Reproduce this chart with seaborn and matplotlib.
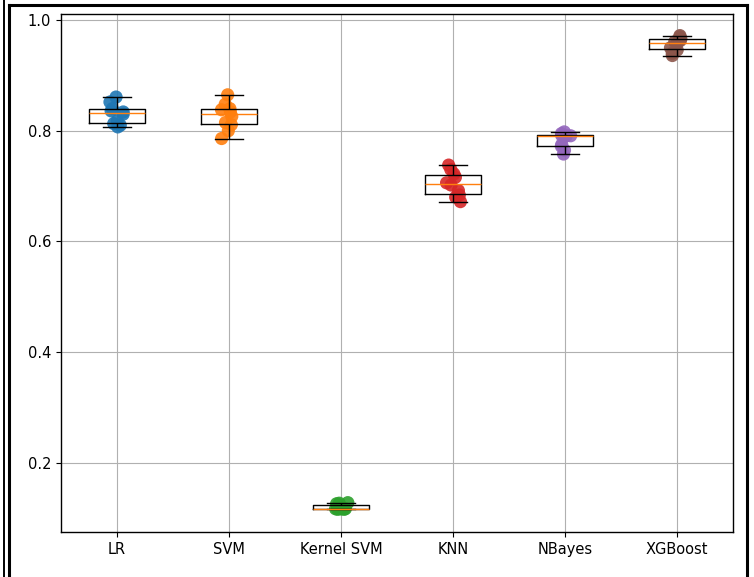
import numpy as np
import pandas as pd
import matplotlib
matplotlib.use("Agg")
import matplotlib.pyplot as plt
from matplotlib.lines import Line2D
import seaborn as sns

models = ["LR", "SVM", "Kernel SVM", "KNN", "NBayes", "XGBoost"]
lr = [0.807, 0.810, 0.813, 0.818, 0.830, 0.834, 0.836, 0.840, 0.852, 0.861]
svm = [0.786, 0.800, 0.811, 0.815, 0.826, 0.834, 0.838, 0.840, 0.848, 0.865]
ksvm = [0.116, 0.116, 0.117, 0.117, 0.117, 0.117, 0.119, 0.126, 0.127, 0.128]
knn = [0.672, 0.680, 0.684, 0.692, 0.702, 0.706, 0.716, 0.722, 0.730, 0.738]
nb = [0.758, 0.765, 0.772, 0.775, 0.789, 0.791, 0.791, 0.792, 0.795, 0.798]
xgb = [0.936, 0.940, 0.946, 0.950, 0.957, 0.961, 0.963, 0.966, 0.970, 0.972]
yticks = [0.2, 0.4, 0.6, 0.8, 1.0]

series = [lr, svm, ksvm, knn, nb, xgb]
df = pd.DataFrame({
    "model": np.repeat(models, [len(s) for s in series]),
    "score": np.concatenate(series),
})

fig = plt.figure(figsize=(7.54, 5.77), dpi=100)
ax = fig.add_axes([0.0809, 0.078, 0.8912, 0.8977])

np.random.seed(3)
sns.stripplot(data=df, x="model", y="score", hue="model", order=models,
              palette="tab10", jitter=0.07, size=9.5, linewidth=0, alpha=0.9,
              legend=False, ax=ax, zorder=2)
sns.boxplot(data=df, x="model", y="score", order=models, fill=False,
            color="black", width=0.5, linewidth=1.0, whis=1.5,
            showfliers=False, medianprops=dict(color="#ff7f0e", linewidth=1.0),
            ax=ax, zorder=3)

ax.set_ylim(0.075, 1.011)
ax.set_xlim(-0.5, 5.5)
ax.set_yticks(yticks)
ax.set_yticklabels([f"{t:.1f}" for t in yticks])
ax.tick_params(labelsize=10.5)
ax.set_xlabel("")
ax.set_ylabel("")
ax.grid(True, color="#b0b0b0", linewidth=0.8)
ax.set_axisbelow(True)
for s in ax.spines.values():
    s.set_color("black")
    s.set_linewidth(1.0)

W, H = 754, 577
def fx(p):
    return p / W
def fy(p):
    return 1 - p / H
fig.add_artist(Line2D([fx(4), fx(4)], [fy(0), fy(577)], color="black", lw=1.4,
                      transform=fig.transFigure))
fig.add_artist(Line2D([fx(9), fx(9)], [fy(5), fy(577)], color="black", lw=2.2,
                      transform=fig.transFigure))
fig.add_artist(Line2D([fx(9), fx(747)], [fy(5), fy(5)], color="black", lw=2.2,
                      transform=fig.transFigure))
fig.add_artist(Line2D([fx(747), fx(747)], [fy(5), fy(577)], color="black", lw=2.2,
                      transform=fig.transFigure))

fig.savefig("out.png", dpi=100)
